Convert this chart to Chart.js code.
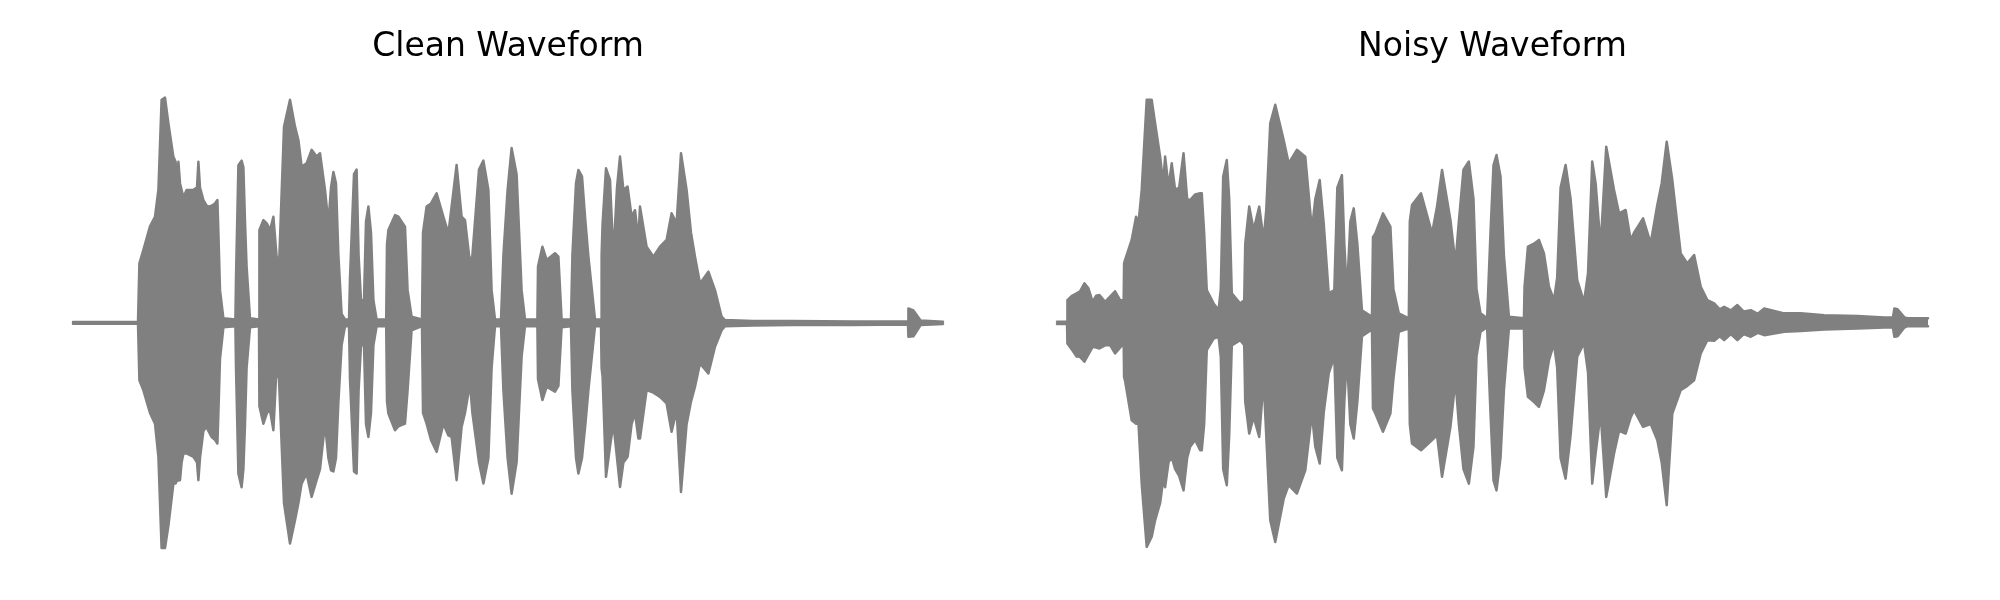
<!DOCTYPE html>
<html lang="en">
<head>
    <meta charset="UTF-8">
    <title>Waveforms</title>
    <script src="https://cdn.jsdelivr.net/npm/chart.js"></script>
    <style>
        body { margin: 0; background: #fff; width: 2000px; height: 600px; position: relative; }
        canvas { position: absolute; top: 0; }
        #cleanChart { left: 0; }
        #noisyChart { left: 1000px; }
    </style>
</head>
<body>
    <canvas id="cleanChart" width="1000" height="600"></canvas>
    <canvas id="noisyChart" width="1000" height="600"></canvas>

    <script>
        // envelope of each waveform: time (s), upper and lower amplitude
        const cleanTime = [
            0, 0.325, 0.332, 0.352, 0.385, 0.41, 0.427, 0.443, 0.46, 0.477,
            0.502, 0.513, 0.52, 0.527, 0.535, 0.543, 0.552, 0.568, 0.602, 0.62,
            0.627, 0.635, 0.652, 0.668, 0.677, 0.693, 0.71, 0.722, 0.727, 0.735,
            0.752, 0.812, 0.815, 0.827, 0.843, 0.852, 0.86, 0.868, 0.885, 0.93,
            0.932, 0.952, 0.97, 0.985, 1.002, 1.018, 1.03, 1.055, 1.085, 1.11,
            1.127, 1.143, 1.168, 1.193, 1.218, 1.235, 1.26, 1.277, 1.29, 1.302,
            1.315, 1.327, 1.343, 1.36, 1.38, 1.385, 1.405, 1.418, 1.428, 1.44,
            1.455, 1.465, 1.477, 1.49, 1.502, 1.518, 1.566, 1.57, 1.577, 1.61,
            1.627, 1.66, 1.673, 1.693, 1.745, 1.75, 1.768, 1.79, 1.818, 1.852,
            1.877, 1.893, 1.918, 1.943, 1.96, 1.985, 1.997, 2.03, 2.052, 2.077,
            2.093, 2.11, 2.14, 2.152, 2.173, 2.193, 2.218, 2.243, 2.26, 2.322,
            2.325, 2.347, 2.368, 2.41, 2.427, 2.443, 2.49, 2.497, 2.515, 2.527,
            2.545, 2.562, 2.577, 2.61, 2.64, 2.643, 2.648, 2.665, 2.685, 2.702,
            2.72, 2.735, 2.752, 2.773, 2.793, 2.81, 2.827, 2.835, 2.868, 2.902,
            2.935, 2.968, 2.993, 3.018, 3.04, 3.068, 3.09, 3.11, 3.135, 3.177,
            3.21, 3.243, 3.26, 3.4, 3.6, 3.9, 4.175, 4.177, 4.202, 4.238,
            4.35
        ];
        const cleanTop = [
            0.004, 0.004, 0.264, 0.324, 0.428, 0.471, 0.59, 0.99, 1.0, 0.885,
            0.737, 0.715, 0.62, 0.715, 0.62, 0.59, 0.557, 0.59, 0.59, 0.60,
            0.715, 0.60, 0.545, 0.52, 0.516, 0.52, 0.53, 0.545, 0.40, 0.145,
            0.02, 0.015, 0.20, 0.70, 0.72, 0.69, 0.45, 0.25, 0.02, 0.015,
            0.412, 0.456, 0.44, 0.412, 0.471, 0.294, 0.25, 0.87, 0.99, 0.871,
            0.812, 0.694, 0.708, 0.768, 0.738, 0.753, 0.59, 0.441, 0.60, 0.67,
            0.62, 0.30, 0.04, 0.015, 0.015, 0.20, 0.66, 0.68, 0.30, 0.10,
            0.10, 0.45, 0.516, 0.40, 0.10, 0.015, 0.015, 0.35, 0.412, 0.478,
            0.471, 0.427, 0.145, 0.027, 0.015, 0.40, 0.516, 0.53, 0.575, 0.471,
            0.397, 0.516, 0.701, 0.471, 0.456, 0.264, 0.30, 0.68, 0.72, 0.59,
            0.145, 0.015, 0.015, 0.30, 0.59, 0.776, 0.66, 0.145, 0.015, 0.015,
            0.25, 0.338, 0.279, 0.309, 0.294, 0.015, 0.015, 0.30, 0.62, 0.679,
            0.65, 0.45, 0.294, 0.015, 0.015, 0.30, 0.442, 0.686, 0.634, 0.294,
            0.60, 0.738, 0.59, 0.605, 0.471, 0.50, 0.368, 0.516, 0.338, 0.294,
            0.338, 0.368, 0.486, 0.442, 0.753, 0.59, 0.40, 0.294, 0.175, 0.227,
            0.145, 0.027, 0.012, 0.008, 0.008, 0.006, 0.006, 0.064, 0.055, 0.01,
            0.005
        ];
        const cleanBottom = [
            -0.004, -0.004, -0.255, -0.30, -0.40, -0.448, -0.595, -1.0, -1.0, -0.90,
            -0.714, -0.714, -0.70, -0.70, -0.699, -0.62, -0.58, -0.58, -0.595, -0.62,
            -0.699, -0.60, -0.48, -0.462, -0.48, -0.507, -0.52, -0.536, -0.40, -0.16,
            -0.02, -0.015, -0.20, -0.67, -0.73, -0.65, -0.45, -0.20, -0.02, -0.015,
            -0.37, -0.448, -0.40, -0.388, -0.477, -0.195, -0.25, -0.80, -0.98, -0.877,
            -0.80, -0.714, -0.669, -0.773, -0.699, -0.65, -0.448, -0.60, -0.655, -0.66,
            -0.60, -0.35, -0.10, -0.015, -0.015, -0.25, -0.66, -0.669, -0.30, -0.10,
            -0.10, -0.45, -0.507, -0.40, -0.10, -0.015, -0.015, -0.35, -0.403, -0.477,
            -0.46, -0.448, -0.299, -0.033, -0.015, -0.40, -0.448, -0.52, -0.573, -0.448,
            -0.50, -0.507, -0.699, -0.462, -0.40, -0.27, -0.40, -0.62, -0.714, -0.60,
            -0.20, -0.015, -0.015, -0.30, -0.60, -0.759, -0.62, -0.15, -0.015, -0.015,
            -0.25, -0.343, -0.284, -0.306, -0.28, -0.02, -0.015, -0.30, -0.60, -0.669,
            -0.60, -0.45, -0.299, -0.015, -0.015, -0.20, -0.24, -0.684, -0.55, -0.448,
            -0.60, -0.729, -0.62, -0.595, -0.45, -0.40, -0.514, -0.514, -0.299, -0.31,
            -0.329, -0.358, -0.484, -0.388, -0.751, -0.45, -0.35, -0.284, -0.18, -0.225,
            -0.106, -0.033, -0.015, -0.012, -0.010, -0.010, -0.008, -0.062, -0.06, -0.01,
            -0.005
        ];

        const noisyTime = [
            0, 0.05, 0.052, 0.075, 0.098, 0.115, 0.137, 0.157, 0.178, 0.195,
            0.212, 0.24, 0.265, 0.29, 0.315, 0.333, 0.335, 0.34, 0.373, 0.395,
            0.407, 0.423, 0.448, 0.473, 0.49, 0.515, 0.53, 0.54, 0.557, 0.573,
            0.59, 0.61, 0.632, 0.65, 0.665, 0.69, 0.715, 0.723, 0.735, 0.748,
            0.782, 0.807, 0.818, 0.83, 0.848, 0.86, 0.873, 0.915, 0.935, 0.94,
            0.96, 0.982, 1.01, 1.032, 1.045, 1.065, 1.09, 1.132, 1.157, 1.198,
            1.24, 1.273, 1.29, 1.312, 1.332, 1.357, 1.385, 1.40, 1.423, 1.435,
            1.448, 1.465, 1.482, 1.50, 1.523, 1.573, 1.578, 1.59, 1.628, 1.665,
            1.68, 1.707, 1.757, 1.762, 1.773, 1.818, 1.873, 1.898, 1.923, 1.965,
            1.99, 2.007, 2.03, 2.057, 2.08, 2.095, 2.115, 2.148, 2.165, 2.18,
            2.195, 2.215, 2.232, 2.257, 2.332, 2.335, 2.352, 2.38, 2.407, 2.432,
            2.457, 2.482, 2.498, 2.515, 2.54, 2.565, 2.598, 2.632, 2.652, 2.673,
            2.69, 2.715, 2.743, 2.782, 2.807, 2.84, 2.865, 2.882, 2.927, 2.965,
            2.998, 3.02, 3.045, 3.073, 3.115, 3.148, 3.182, 3.215, 3.248, 3.282,
            3.31, 3.332, 3.365, 3.398, 3.43, 3.465, 3.50, 3.532, 3.632, 3.715,
            3.832, 3.998, 4.132, 4.175, 4.182, 4.198, 4.232, 4.248, 4.35
        ];
        const noisyTop = [
            0.005, 0.005, 0.101, 0.12, 0.131, 0.14, 0.175, 0.153, 0.093, 0.12,
            0.123, 0.093, 0.116, 0.14, 0.101, 0.10, 0.264, 0.279, 0.368, 0.471,
            0.442, 0.59, 0.99, 0.99, 0.886, 0.738, 0.62, 0.738, 0.605, 0.708,
            0.59, 0.60, 0.753, 0.55, 0.545, 0.57, 0.575, 0.575, 0.40, 0.145,
            0.086, 0.057, 0.15, 0.65, 0.723, 0.55, 0.131, 0.086, 0.10, 0.35,
            0.516, 0.412, 0.516, 0.368, 0.50, 0.886, 0.968, 0.812, 0.708, 0.768,
            0.738, 0.412, 0.55, 0.634, 0.442, 0.131, 0.145, 0.60, 0.656, 0.35,
            0.131, 0.45, 0.508, 0.35, 0.056, 0.027, 0.38, 0.397, 0.486, 0.427,
            0.15, 0.042, 0.02, 0.45, 0.523, 0.575, 0.397, 0.516, 0.679, 0.456,
            0.264, 0.45, 0.68, 0.716, 0.55, 0.15, 0.042, 0.02, 0.40, 0.70,
            0.745, 0.65, 0.30, 0.027, 0.02, 0.16, 0.338, 0.35, 0.368, 0.308,
            0.16, 0.101, 0.20, 0.60, 0.701, 0.55, 0.19, 0.093, 0.219, 0.716,
            0.62, 0.338, 0.782, 0.59, 0.486, 0.501, 0.368, 0.40, 0.464, 0.353,
            0.523, 0.62, 0.804, 0.634, 0.308, 0.264, 0.301, 0.16, 0.101, 0.086,
            0.06, 0.071, 0.055, 0.079, 0.05, 0.056, 0.04, 0.064, 0.042, 0.042,
            0.034, 0.03, 0.024, 0.024, 0.064, 0.06, 0.024, 0.02, 0.02
        ];
        const noisyBottom = [
            -0.005, -0.005, -0.092, -0.12, -0.15, -0.151, -0.173, -0.14, -0.107, -0.11,
            -0.114, -0.10, -0.099, -0.136, -0.11, -0.092, -0.24, -0.258, -0.433, -0.448,
            -0.448, -0.714, -0.995, -0.95, -0.877, -0.80, -0.70, -0.73, -0.62, -0.595,
            -0.65, -0.68, -0.744, -0.60, -0.55, -0.52, -0.566, -0.566, -0.45, -0.121,
            -0.07, -0.062, -0.15, -0.65, -0.721, -0.50, -0.10, -0.077, -0.10, -0.35,
            -0.492, -0.418, -0.507, -0.255, -0.50, -0.877, -0.973, -0.782, -0.721, -0.758,
            -0.655, -0.403, -0.55, -0.625, -0.40, -0.225, -0.15, -0.60, -0.655, -0.35,
            -0.15, -0.45, -0.514, -0.35, -0.06, -0.03, -0.38, -0.403, -0.484, -0.403,
            -0.25, -0.04, -0.025, -0.45, -0.536, -0.566, -0.521, -0.50, -0.684, -0.462,
            -0.255, -0.45, -0.65, -0.714, -0.55, -0.15, -0.04, -0.02, -0.40, -0.70,
            -0.744, -0.60, -0.30, -0.025, -0.025, -0.20, -0.329, -0.35, -0.373, -0.30,
            -0.166, -0.092, -0.20, -0.60, -0.692, -0.50, -0.151, -0.09, -0.22, -0.714,
            -0.58, -0.40, -0.773, -0.58, -0.48, -0.492, -0.42, -0.388, -0.462, -0.45,
            -0.521, -0.62, -0.81, -0.403, -0.299, -0.28, -0.255, -0.136, -0.077, -0.08,
            -0.06, -0.077, -0.05, -0.077, -0.05, -0.062, -0.045, -0.055, -0.04, -0.036,
            -0.03, -0.025, -0.021, -0.021, -0.062, -0.06, -0.021, -0.015, -0.015
        ];

        const waveColor = '#808080';

        function toPoints(times, values) {
            return times.map((t, i) => ({x: t, y: values[i]}));
        }

        function envelopeDataset(times, values, fill) {
            return {
                data: toPoints(times, values),
                borderColor: waveColor,
                backgroundColor: waveColor,
                borderWidth: 2.5,
                borderJoinStyle: 'round',
                borderCapStyle: 'round',
                pointRadius: 0,
                tension: 0,
                fill: fill,
                clip: false
            };
        }

        function drawWaveform(canvasId, title, times, top, bottom, padLeft, padRight) {
            const ctx = document.getElementById(canvasId).getContext('2d');
            return new Chart(ctx, {
                type: 'line',
                data: {
                    datasets: [
                        envelopeDataset(times, top, '+1'),
                        envelopeDataset(times, bottom, false)
                    ]
                },
                options: {
                    responsive: false,
                    animation: false,
                    events: [],
                    layout: {
                        padding: {left: padLeft, right: padRight, top: 0, bottom: 52}
                    },
                    plugins: {
                        legend: {display: false},
                        tooltip: {enabled: false},
                        title: {
                            display: true,
                            text: title,
                            color: '#000',
                            font: {family: 'DejaVu Sans', size: 33, weight: 'normal', lineHeight: 1.2},
                            padding: {top: 28, bottom: 30}
                        }
                    },
                    scales: {
                        x: {type: 'linear', min: 0, max: 4.35, display: false},
                        y: {min: -1, max: 1, display: false}
                    }
                }
            });
        }

        drawWaveform('cleanChart', 'Clean Waveform', cleanTime, cleanTop, cleanBottom, 73, 57);
        drawWaveform('noisyChart', 'Noisy Waveform', noisyTime, noisyTop, noisyBottom, 57, 72);
    </script>
</body>
</html>
